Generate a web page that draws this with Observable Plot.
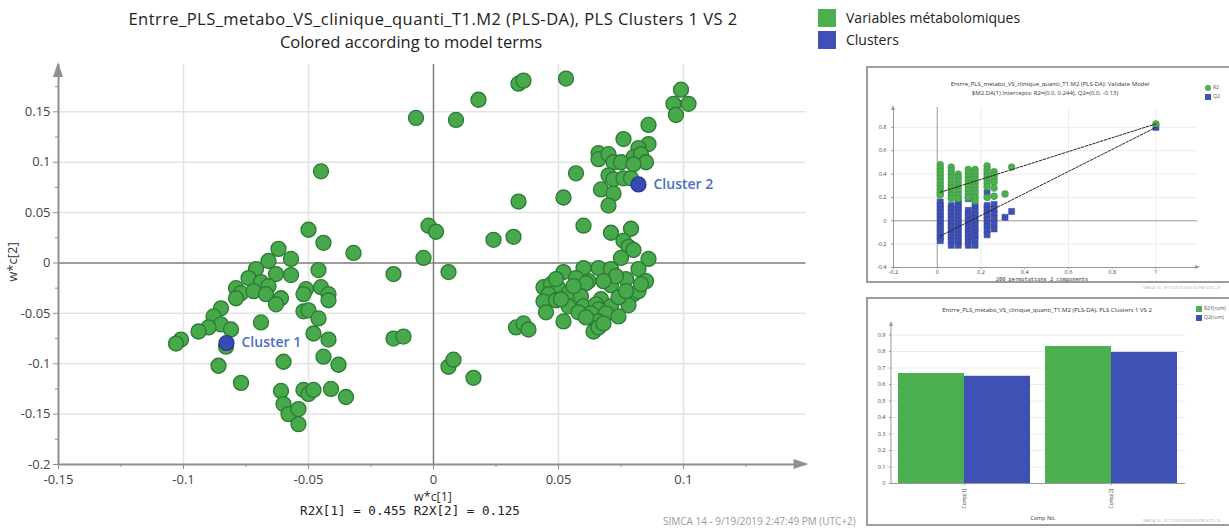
<!DOCTYPE html>
<html><head><meta charset="utf-8">
<script src="https://cdn.jsdelivr.net/npm/d3@7"></script>
<script src="https://cdn.jsdelivr.net/npm/@observablehq/plot@0.6"></script>
<style>
body{margin:0;width:1229px;height:528px;position:relative;background:#fff;font-family:"Open Sans",sans-serif;overflow:hidden;color:#333}
.abs{position:absolute;white-space:nowrap}
.c{transform:translateX(-50%)}
.box{position:absolute;border:2px solid #9c9c9c;border-right:none;box-sizing:border-box}
</style></head><body>
<div id="main" class="abs" style="left:0;top:0"></div>
<div class="abs c" style="left:433px;top:7px;font-size:16.5px;letter-spacing:0.45px;color:#222">Entrre_PLS_metabo_VS_clinique_quanti_T1.M2 (PLS-DA), PLS Clusters 1 VS 2</div>
<div class="abs c" style="left:411px;top:30px;font-size:16.5px;color:#222">Colored according to model terms</div>
<div class="abs" style="left:818px;top:9px;width:18px;height:18px;background:#4caf50"></div>
<div class="abs" style="left:818px;top:31px;width:18px;height:18px;background:#3f51b5"></div>
<div class="abs" style="left:846px;top:8px;font-size:14px;color:#222">Variables métabolomiques</div>
<div class="abs" style="left:846px;top:30px;font-size:14px;color:#222">Clusters</div>
<div class="abs" style="left:12px;top:262px;font-size:13px;color:#333;transform:translate(-50%,-50%) rotate(-90deg)">w*c[2]</div>
<div class="abs c" style="left:433px;top:488px;font-size:12.5px;color:#333">w*c[1]</div>
<div class="abs c" style="left:410px;top:503px;font-size:12.6px;color:#222;font-family:'DejaVu Sans Mono',monospace">R2X[1] = 0.455 R2X[2] = 0.125</div>
<div class="abs" style="left:663px;top:514px;font-size:10px;color:#9a9a9a">SIMCA 14 - 9/19/2019 2:47:49 PM (UTC+2)</div>

<div class="box" style="left:866px;top:66px;width:363px;height:217px"></div>
<div id="perm" class="abs" style="left:867px;top:67px"></div>
<div class="abs c" style="left:1050px;top:80px;font-size:6px;color:#333">Entrre_PLS_metabo_VS_clinique_quanti_T1.M2 (PLS-DA): Validate Model</div>
<div class="abs c" style="left:1045px;top:89px;font-size:6px;color:#333">$M2.DA(1) Intercepts: R2=(0.0, 0.244), Q2=(0.0, -0.13)</div>
<div class="abs" style="left:1205px;top:85px;width:6px;height:6px;border-radius:50%;background:#4caf50"></div>
<div class="abs" style="left:1205px;top:94px;width:6px;height:6px;background:#3f51b5"></div>
<div class="abs" style="left:1213px;top:84px;font-size:5px;color:#555">R2</div>
<div class="abs" style="left:1213px;top:93px;font-size:5px;color:#555">Q2</div>
<div class="abs c" style="left:1042px;top:275.5px;font-size:5.3px;color:#333;font-family:'DejaVu Sans Mono',monospace">200 permutations 2 components</div>
<div class="abs" style="left:1143px;top:285px;font-size:4px;color:#aaa">SIMCA 14 - 9/11/2019 4:05:52 PM (UTC+2)</div>

<div class="box" style="left:866px;top:297px;width:363px;height:229px"></div>
<div id="bars" class="abs" style="left:867px;top:298px"></div>
<div class="abs c" style="left:1047px;top:306px;font-size:6px;color:#333">Entrre_PLS_metabo_VS_clinique_quanti_T1.M2 (PLS-DA), PLS Clusters 1 VS 2</div>
<div class="abs" style="left:1196px;top:306px;width:6px;height:6px;background:#4caf50"></div>
<div class="abs" style="left:1196px;top:315px;width:6px;height:6px;background:#3f51b5"></div>
<div class="abs" style="left:1204px;top:305px;font-size:5px;color:#555">R2Y(cum)</div>
<div class="abs" style="left:1204px;top:314px;font-size:5px;color:#555">Q2(cum)</div>
<div class="abs c" style="left:1043px;top:514px;font-size:5.5px;color:#333">Comp No.</div>
<div class="abs" style="left:1143px;top:518px;font-size:4px;color:#aaa">SIMCA 14 - 9/11/2019 4:05:20 PM (UTC+2)</div>

<script>
// ---------- main loading plot data ----------
const wc1 = [-0.045,-0.050,-0.044,-0.032,-0.062,-0.066,-0.057,-0.071,-0.063,-0.057,-0.046,-0.074,-0.069,-0.066,-0.079,-0.077,-0.079,-0.072,-0.067,-0.061,-0.063,-0.051,-0.052,-0.045,-0.042,-0.042,-0.052,-0.050,-0.046,-0.085,-0.088,-0.085,-0.090,-0.094,-0.081,-0.069,-0.101,-0.103,-0.083,-0.048,-0.042,-0.086,-0.060,-0.044,-0.038,-0.077,-0.061,-0.060,-0.058,-0.054,-0.054,-0.052,-0.050,-0.048,-0.041,-0.035,
 -0.016,-0.016,-0.012,-0.007,0.009,0.018,0.034,0.036,0.053,-0.002,0.001,0.024,0.032,-0.004,0.006,0.034,0.052,0.006,0.008,0.016,0.033,0.036,0.038,
 0.099,0.096,0.102,0.097,0.086,0.076,0.086,0.082,0.066,0.066,0.070,0.080,0.083,0.072,0.075,0.085,0.080,0.057,0.070,0.072,0.076,0.079,0.067,0.072,0.070,0.060,0.071,0.079,0.076,0.078,0.080,0.075,0.086,
 0.052,0.060,0.066,0.071,0.082,0.057,0.062,0.077,0.085,0.044,0.047,0.050,0.061,0.071,0.046,0.054,0.059,0.080,0.082,0.067,0.044,0.049,0.054,0.060,0.065,0.071,0.078,0.066,0.045,0.058,0.063,0.069,0.074,0.052,0.066,0.064,0.066,
 0.074,0.056,0.077,0.073,0.068,0.051,0.061,0.068,0.083,0.049];
const wc2 = [0.091,0.033,0.020,0.010,0.014,0.002,0.004,-0.006,-0.011,-0.012,-0.007,-0.015,-0.019,-0.023,-0.025,-0.030,-0.035,-0.028,-0.031,-0.035,-0.041,-0.026,-0.031,-0.024,-0.031,-0.037,-0.048,-0.047,-0.055,-0.045,-0.053,-0.061,-0.064,-0.068,-0.066,-0.059,-0.076,-0.080,-0.083,-0.070,-0.076,-0.102,-0.098,-0.093,-0.101,-0.119,-0.127,-0.140,-0.150,-0.145,-0.160,-0.126,-0.130,-0.126,-0.125,-0.133,
 -0.011,-0.075,-0.073,0.144,0.142,0.162,0.178,0.181,0.183,0.037,0.031,0.023,0.026,0.005,-0.009,0.061,0.065,-0.103,-0.096,-0.114,-0.064,-0.060,-0.066,
 0.172,0.158,0.158,0.147,0.137,0.123,0.118,0.114,0.109,0.103,0.108,0.105,0.108,0.100,0.100,0.100,0.098,0.089,0.087,0.083,0.084,0.084,0.073,0.069,0.057,0.037,0.030,0.034,0.022,0.016,0.013,0.005,0.004,
 -0.009,-0.005,-0.005,-0.006,-0.006,-0.015,-0.018,-0.016,-0.018,-0.024,-0.021,-0.025,-0.020,-0.022,-0.031,-0.030,-0.033,-0.031,-0.028,-0.036,-0.038,-0.037,-0.043,-0.043,-0.041,-0.043,-0.042,-0.046,-0.049,-0.049,-0.050,-0.050,-0.053,-0.058,-0.058,-0.068,-0.064,
 -0.034,-0.023,-0.028,-0.013,-0.018,-0.036,-0.054,-0.060,-0.021,-0.016];
const clusterNames = ["Cluster 1", "Cluster 2"];
const clusterX = [-0.0828, 0.082];
const clusterY = [-0.0794, 0.078];
const xMajor = [-0.15, -0.1, -0.05, 0, 0.05, 0.1];
const xMinor = [-0.125, -0.075, -0.025, 0.025, 0.075, 0.125];
const yMajor = [-0.2, -0.15, -0.1, -0.05, 0, 0.05, 0.1, 0.15];
const yMinor = [-0.175, -0.125, -0.075, -0.025, 0.025, 0.075, 0.125, 0.175];

// ---------- permutation inset data ----------
const permCols = [0.014, 0.064, 0.096, 0.142, 0.173, 0.228, 0.26, 0.31, 0.34, 1];
const r2ByCol = [
 [0.48,0.45,0.42,0.39,0.36,0.33,0.30,0.27,0.24,0.22],
 [0.46,0.43,0.40,0.37,0.34,0.31,0.28,0.25,0.22,0.19],
 [0.40,0.37,0.34,0.31,0.28,0.25,0.22,0.19],
 [0.44,0.41,0.38,0.35,0.32,0.29,0.26,0.23,0.20],
 [0.44,0.41,0.38,0.35,0.32,0.29,0.26,0.23,0.20,0.17],
 [0.47,0.44,0.41,0.38,0.35,0.32,0.29,0.20],
 [0.42,0.39,0.36,0.33,0.28,0.21],
 [0.23],[0.46],[0.83]];
const q2ByCol = [
 [0.16,0.13,0.10,0.07,0.04,0.01,-0.02,-0.05,-0.08,-0.11,-0.14,-0.17],
 [0.13,0.10,0.07,0.04,0.01,-0.02,-0.05,-0.08,-0.11,-0.14,-0.17,-0.21],
 [0.18,0.15,0.12,0.09,0.06,0.03,0,-0.03,-0.06,-0.09,-0.12,-0.15,-0.18,-0.21],
 [0.19,0.09,0.06,0.03,0,-0.03,-0.06,-0.09,-0.12,-0.15,-0.18,-0.21],
 [0.14,0.11,0.08,0.05,0.02,-0.01,-0.04,-0.07,-0.10,-0.13,-0.16,-0.21],
 [0.24,0.13,0.10,0.07,0.04,0.01,-0.02,-0.05,-0.08,-0.12],
 [0.14,0.10,0.06,0.02,-0.02,-0.07],
 [0.03],[0.08],[0.80]];
const r2LineX = [0.014, 1], r2LineY = [0.244, 0.83];
const q2LineX = [0.014, 1], q2LineY = [-0.13, 0.80];
const permXTicks = [-0.2, 0, 0.2, 0.4, 0.6, 0.8, 1];
const permYTicks = [-0.4, -0.2, 0, 0.2, 0.4, 0.6, 0.8];

// ---------- summary bar inset data ----------
const comps = ["Comp[1]", "Comp[2]"];
const r2ycum = [0.667, 0.831];
const q2cum = [0.650, 0.795];
const barYTicks = [0, 0.1, 0.2, 0.3, 0.4, 0.5, 0.6, 0.7, 0.8, 0.9];

const fmt = d => String(Math.round(d * 1000) / 1000);
const GREEN = "#47a94b", GREEN_S = "#2b7a31", BLUE = "#3649b5", BLUE_S = "#26348a";

// ---------- main ----------
const pts = wc1.map((x, i) => ({x, y: wc2[i]}));
const clusters = clusterNames.map((name, i) => ({name, x: clusterX[i], y: clusterY[i]}));
const main = Plot.plot({
  width: 830, height: 528,
  marginLeft: 58, marginRight: 24.5, marginTop: 64, marginBottom: 64,
  x: {domain: [-0.15, 0.149]},
  y: {domain: [-0.2, 0.197]},
  style: {fontFamily: "Open Sans", background: "transparent", overflow: "visible"},
  marks: [
    Plot.ruleX(xMajor.filter(d => d !== 0 && d !== -0.15), {stroke: "#e3e3e3", strokeWidth: 1.5}),
    Plot.ruleY(yMajor.filter(d => d !== 0 && d !== -0.2), {stroke: "#e3e3e3", strokeWidth: 1.5}),
    Plot.ruleX([0], {stroke: "#7d7d7d", strokeWidth: 1.5}),
    Plot.ruleY([0], {stroke: "#7d7d7d", strokeWidth: 1.5}),
    Plot.ruleX([-0.15], {stroke: "#8f8f8f", strokeWidth: 2}),
    Plot.ruleY([-0.2], {stroke: "#8f8f8f", strokeWidth: 2}),
    Plot.axisX({ticks: xMajor, tickSize: 5, tickPadding: 5, tickFormat: fmt, fontSize: 13, fill: "#444", stroke: "#8f8f8f", label: null}),
    Plot.axisX({ticks: xMinor, tickSize: 3, tickFormat: () => "", stroke: "#8f8f8f", label: null}),
    Plot.axisY({ticks: yMajor, tickSize: 5, tickPadding: 3, tickFormat: fmt, fontSize: 13, fill: "#444", stroke: "#8f8f8f", label: null}),
    Plot.axisY({ticks: yMinor, tickSize: 3, tickFormat: () => "", stroke: "#8f8f8f", label: null}),
    Plot.dot(pts, {x: "x", y: "y", r: 7.5, fill: GREEN, stroke: GREEN_S, strokeWidth: 1.3}),
    Plot.dot(clusters, {x: "x", y: "y", r: 7.5, fill: BLUE, stroke: BLUE_S, strokeWidth: 1.2}),
    Plot.text(clusters, {x: "x", y: "y", text: "name", dx: 15, textAnchor: "start", fill: "#4a6fc8", fontWeight: 600, fontSize: 14})
  ]
});
document.getElementById("main").append(main);

function addArrows(svg, sx, sy, xMin, yMin, len, half, fill) {
  const x0 = sx.apply(xMin), y0 = sy.apply(yMin);
  const xEnd = sx.range[1], yEnd = sy.range[1];
  const g = d3.select(svg).append("g").attr("fill", fill);
  g.append("path").attr("d", `M${x0},${yEnd - 2}L${x0 - half},${yEnd - 2 + len}L${x0 + half},${yEnd - 2 + len}Z`);
  g.append("path").attr("d", `M${xEnd + 3},${y0}L${xEnd + 3 - len},${y0 - half}L${xEnd + 3 - len},${y0 + half}Z`);
}
addArrows(main, main.scale("x"), main.scale("y"), -0.15, -0.2, 15, 5, "#8f8f8f");

// ---------- permutation inset ----------
const r2pts = [], q2pts = [];
permCols.forEach((x, i) => {
  r2ByCol[i].forEach(y => r2pts.push({x, y}));
  q2ByCol[i].forEach(y => q2pts.push({x, y}));
});
const r2Line = r2LineX.map((x, i) => ({x, y: r2LineY[i]}));
const q2Line = q2LineX.map((x, i) => ({x, y: q2LineY[i]}));
const perm = Plot.plot({
  width: 355, height: 215,
  marginLeft: 26, marginRight: 25, marginTop: 40, marginBottom: 15,
  x: {domain: [-0.2, 1.19]},
  y: {domain: [-0.4, 0.97]},
  style: {fontFamily: "Open Sans", background: "transparent", overflow: "visible"},
  marks: [
    Plot.ruleX([0.2, 0.6, 1], {stroke: "#ececec"}),
    Plot.ruleY(permYTicks.filter(d => d !== 0 && d !== -0.4), {stroke: "#ececec"}),
    Plot.ruleX([0], {stroke: "#999", strokeWidth: 1}),
    Plot.ruleY([0], {stroke: "#999", strokeWidth: 1}),
    Plot.ruleX([-0.2], {stroke: "#999"}),
    Plot.ruleY([-0.4], {stroke: "#999"}),
    Plot.axisX({ticks: permXTicks, tickSize: 2, tickPadding: 1, tickFormat: fmt, fontSize: 5.5, fill: "#444", stroke: "#999", label: null}),
    Plot.axisY({ticks: permYTicks, tickSize: 2, tickPadding: 5, tickFormat: fmt, fontSize: 5.5, fill: "#444", stroke: "#999", label: null}),
    Plot.dot(q2pts, {x: "x", y: "y", symbol: "square", r: 3.4, fill: "#3f51b5", stroke: "#2e3d95", strokeWidth: 0.5}),
    Plot.dot(r2pts, {x: "x", y: "y", r: 3.4, fill: "#4caf50", stroke: "#388e3c", strokeWidth: 0.5}),
    Plot.line(r2Line, {x: "x", y: "y", stroke: "#222", strokeWidth: 1, strokeDasharray: "2.5,1.5"}),
    Plot.line(q2Line, {x: "x", y: "y", stroke: "#222", strokeWidth: 1, strokeDasharray: "2.5,1.5"})
  ]
});
document.getElementById("perm").append(perm);
addArrows(perm, perm.scale("x"), perm.scale("y"), -0.2, -0.4, 5, 2, "#999");

// ---------- bar inset ----------
const bars = Plot.plot({
  width: 362, height: 227,
  marginLeft: 24, marginRight: 44, marginTop: 25, marginBottom: 42,
  x: {domain: comps, paddingInner: 0.1, paddingOuter: 0.05},
  y: {domain: [0, 0.97]},
  style: {fontFamily: "Open Sans", background: "transparent", overflow: "visible"},
  marks: [
    Plot.ruleY(barYTicks.filter(d => d > 0), {stroke: "#ececec"}),
    Plot.barY(comps, {x: d => d, y: (d, i) => r2ycum[i], fill: "#4caf50", insetRight: 66}),
    Plot.barY(comps, {x: d => d, y: (d, i) => q2cum[i], fill: "#3f51b5", insetLeft: 66}),
    Plot.ruleY([0], {stroke: "#999"}),
    Plot.axisX({tickSize: 2, tickPadding: 3, tickRotate: -90, fontSize: 5, fill: "#444", stroke: "#999", label: null}),
    Plot.axisY({ticks: barYTicks, tickSize: 2, tickPadding: 4, tickFormat: fmt, fontSize: 5.5, fill: "#444", stroke: "#999", label: null})
  ]
});
document.getElementById("bars").append(bars);
{
  const sy = bars.scale("y");
  const x0 = 24, yEnd = sy.range[1];
  const g = d3.select(bars).append("g").attr("fill", "#999").attr("stroke", "#999");
  g.append("line").attr("x1", x0).attr("x2", x0).attr("y1", sy.apply(0)).attr("y2", yEnd);
  g.append("path").attr("stroke", "none").attr("d", `M${x0},${yEnd - 2}L${x0 - 2},${yEnd + 3}L${x0 + 2},${yEnd + 3}Z`);
}
</script>
</body></html>
